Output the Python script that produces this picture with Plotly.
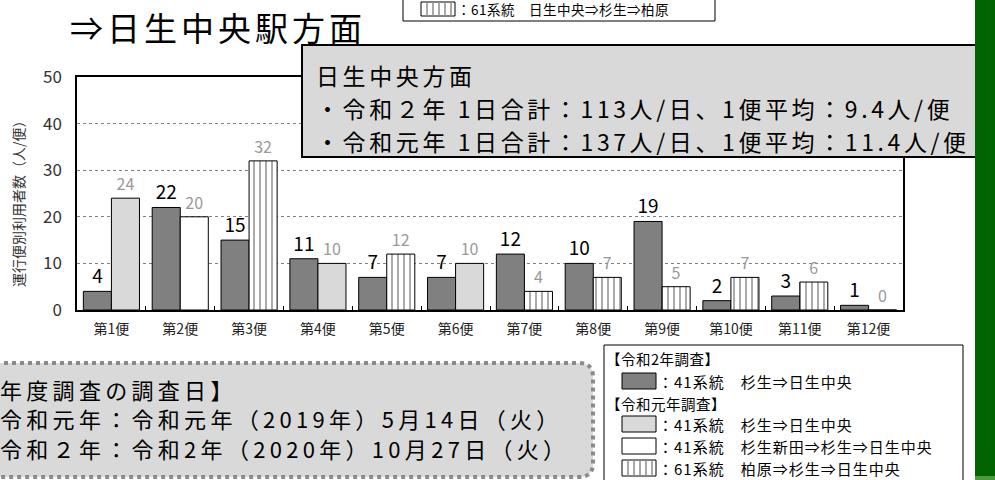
import plotly.graph_objects as go

# ---------------- data ----------------
categories = ["第1便", "第2便", "第3便", "第4便", "第5便", "第6便",
              "第7便", "第8便", "第9便", "第10便", "第11便", "第12便"]
r2_values = [4, 22, 15, 11, 7, 7, 12, 10, 19, 2, 3, 1]          # 令和2年調査
r1_values = [24, 20, 32, 10, 12, 10, 4, 7, 5, 7, 6, 0]          # 令和元年調査
r1_routes = ["41A", "41B", "61", "41A", "61", "41A",
             "61", "61", "61", "61", "61", "61"]
y_ticks = [0, 10, 20, 30, 40, 50]

title_text = "⇒日生中央駅方面"
summary_lines = ["日生中央方面",
                 "・令和２年 1日合計：113人/日、1便平均：9.4人/便",
                 "・令和元年 1日合計：137人/日、1便平均：11.4人/便"]
date_lines = ["年度調査の調査日】",
              "令和元年：令和元年（2019年）5月14日（火）",
              "令和２年：令和2年（2020年）10月27日（火）"]
legend_rows = [("head", "【令和2年調査】"),
               ("r2", "：41系統　杉生⇒日生中央"),
               ("head", "【令和元年調査】"),
               ("41A", "：41系統　杉生⇒日生中央"),
               ("41B", "：41系統　杉生新田⇒杉生⇒日生中央"),
               ("61", "：61系統　柏原⇒杉生⇒日生中央")]
top_legend_text = "：61系統　日生中央⇒杉生⇒柏原"

# ---------------- styles ----------------
FONT = "Noto Sans CJK JP"
DARK = "#808080"
LIGHT = "#d9d9d9"
route_color = {"41A": LIGHT, "41B": "#ffffff", "61": "#ffffff"}
route_shape = {"41A": "", "41B": "", "61": "|"}

W, H = 995, 480
L, R, T, B = 77, 903, 77, 310


def px(x):
    return (x - L) / (R - L)


def py(y):
    return (B - y) / (B - T)


def spaced(text, sp):
    return f'<span style="letter-spacing:{sp}px">{text}</span>'


fig = go.Figure()
fig.add_trace(go.Bar(
    x=categories, y=r2_values, name="令和2年",
    marker=dict(color=DARK, line=dict(color="black", width=1)),
    text=[str(v) for v in r2_values], textposition="outside",
    textfont=dict(family=FONT, size=19, color="black"),
    cliponaxis=False, showlegend=False,
))
fig.add_trace(go.Bar(
    x=categories, y=r1_values, name="令和元年",
    marker=dict(color=[route_color[r] for r in r1_routes],
                line=dict(color="black", width=1),
                pattern=dict(shape=[route_shape[r] for r in r1_routes],
                             fgcolor="#8c8c8c", bgcolor="white",
                             size=6, solidity=0.3)),
    text=[str(v) for v in r1_values], textposition="outside",
    textfont=dict(family=FONT, size=16, color="#999999"),
    cliponaxis=False, showlegend=False,
))

shapes = []
annotations = []

# title
annotations.append(dict(
    text=spaced(title_text, 4),
    x=px(68), y=py(27), xref="paper", yref="paper", xanchor="left", yanchor="middle",
    showarrow=False, font=dict(family=FONT, size=33, color="black")))

# y-axis title
annotations.append(dict(
    text="運行便別利用者数（人/便）", textangle=-90,
    x=px(18), y=py(200), xref="paper", yref="paper", xanchor="center", yanchor="middle",
    showarrow=False, font=dict(family=FONT, size=14, color="#333333")))

# top cut-off legend box
shapes.append(dict(type="rect", xref="paper", yref="paper",
                   x0=px(403), x1=px(715), y0=py(-5), y1=py(21),
                   fillcolor="white", line=dict(color="black", width=1)))
shapes.append(dict(type="rect", xref="paper", yref="paper",
                   x0=px(421), x1=px(455), y0=py(2), y1=py(16),
                   fillcolor="white", line=dict(color="black", width=1)))
for sx in [427, 433, 439, 445, 451]:
    shapes.append(dict(type="line", xref="paper", yref="paper",
                       x0=px(sx), x1=px(sx), y0=py(2), y1=py(16),
                       line=dict(color="#8c8c8c", width=1.5)))
annotations.append(dict(
    text=spaced(top_legend_text, 0.5), x=px(455), y=py(9), xref="paper", yref="paper",
    xanchor="left", yanchor="middle", showarrow=False,
    font=dict(family=FONT, size=13.5, color="black")))

# summary box
shapes.append(dict(type="rect", xref="paper", yref="paper",
                   x0=px(302), x1=px(985), y0=py(157), y1=py(45),
                   fillcolor=LIGHT, line=dict(color="black", width=2)))
for i, line in enumerate(summary_lines):
    annotations.append(dict(
        text=spaced(line, 3.6),
        x=px(314), y=py(75 + 33 * i), xref="paper", yref="paper",
        xanchor="left", yanchor="middle", showarrow=False,
        font=dict(family=FONT, size=23, color="black")))

# bottom-left rounded dotted box
bx0, bx1, by0, by1, rr = -20, 593, 363, 477, 14
path = (f"M {px(bx0)},{py(by0)} L {px(bx1 - rr)},{py(by0)} "
        f"Q {px(bx1)},{py(by0)} {px(bx1)},{py(by0 + rr)} "
        f"L {px(bx1)},{py(by1 - rr)} "
        f"Q {px(bx1)},{py(by1)} {px(bx1 - rr)},{py(by1)} "
        f"L {px(bx0)},{py(by1)} Z")
shapes.append(dict(type="path", xref="paper", yref="paper", path=path,
                   fillcolor=LIGHT, line=dict(color="#8a8a8a", width=4, dash="4px,4px")))
for i, line in enumerate(date_lines):
    annotations.append(dict(
        text=spaced(line, 4.3),
        x=px(-2), y=py(389 + 29.3 * i), xref="paper", yref="paper",
        xanchor="left", yanchor="middle", showarrow=False,
        font=dict(family=FONT, size=22, color="black")))

# bottom-right legend box
shapes.append(dict(type="rect", xref="paper", yref="paper",
                   x0=px(604), x1=px(963), y0=py(490), y1=py(345),
                   fillcolor="white", line=dict(color="black", width=1)))
row_y = [358, 381, 403, 424, 446, 468]
for (kind, label), yy in zip(legend_rows, row_y):
    if kind == "head":
        annotations.append(dict(
            text=spaced(label, 0.5), x=px(604), y=py(yy), xref="paper", yref="paper",
            xanchor="left", yanchor="middle", showarrow=False,
            font=dict(family=FONT, size=14.5, color="black")))
        continue
    fill = DARK if kind == "r2" else route_color[kind]
    shapes.append(dict(type="rect", xref="paper", yref="paper",
                       x0=px(622), x1=px(656), y0=py(yy + 8), y1=py(yy - 8),
                       fillcolor=fill, line=dict(color="black", width=1)))
    if route_shape.get(kind) == "|":
        for sx in [628, 634, 640, 646, 652]:
            shapes.append(dict(type="line", xref="paper", yref="paper",
                               x0=px(sx), x1=px(sx), y0=py(yy + 8), y1=py(yy - 8),
                               line=dict(color="#8c8c8c", width=1.5)))
    annotations.append(dict(
        text=spaced(label, 1.0), x=px(656), y=py(yy), xref="paper", yref="paper",
        xanchor="left", yanchor="middle", showarrow=False,
        font=dict(family=FONT, size=15, color="black")))

# green side bar
shapes.append(dict(type="rect", xref="paper", yref="paper",
                   x0=px(975), x1=px(1000), y0=py(-5), y1=py(490),
                   fillcolor="#006400", line=dict(width=0)))
shapes.append(dict(type="rect", xref="paper", yref="paper",
                   x0=px(975), x1=px(1000), y0=py(482), y1=py(476),
                   fillcolor="#4c9a3c", line=dict(width=0)))

fig.update_layout(
    width=W, height=H,
    margin=dict(l=L, r=W - R, t=T, b=H - B, pad=0),
    paper_bgcolor="white", plot_bgcolor="white",
    barmode="group", bargap=0.185, bargroupgap=0,
    font=dict(family=FONT, color="black"),
    shapes=shapes, annotations=annotations,
    xaxis=dict(showline=True, linecolor="black", linewidth=1.5, mirror=True,
               ticks="inside", tickson="boundaries", ticklen=4, tickcolor="black",
               tickfont=dict(family=FONT, size=14, color="#222222"),
               ticklabelstandoff=5, showgrid=False),
    yaxis=dict(range=[0, 50], tickvals=y_ticks, showline=True, linecolor="black",
               linewidth=1.5, mirror=True, ticks="outside", ticklen=10,
               tickcolor="rgba(0,0,0,0)",
               tickfont=dict(family=FONT, size=17, color="#333333"),
               showgrid=True, gridcolor="#808080", griddash="dot", gridwidth=1,
               zeroline=False),
)

fig.write_html("out.html", config={"displayModeBar": False},
               post_script="document.body.style.margin='0';document.body.style.overflow='hidden';")
